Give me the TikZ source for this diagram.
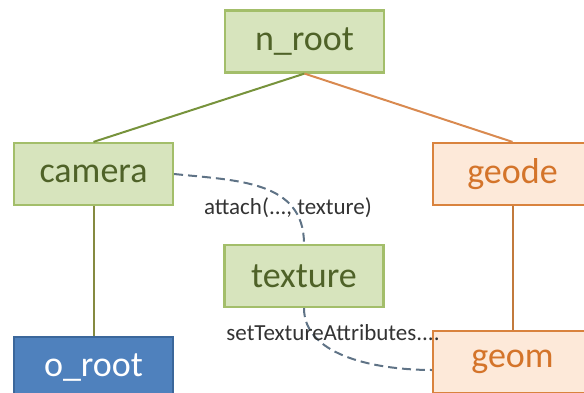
\documentclass[tikz,border=0pt]{standalone}
\usepackage{fontspec}
\setmainfont{Carlito}
\definecolor{gfill}{HTML}{D7E4BD}
\definecolor{gdraw}{HTML}{A3BE6A}
\definecolor{gtext}{HTML}{4F6228}
\definecolor{ofill}{HTML}{FDE9D9}
\definecolor{odraw}{HTML}{D9833E}
\definecolor{otext}{HTML}{D4742A}
\definecolor{bfill}{HTML}{4F81BD}
\definecolor{bdraw}{HTML}{3B679B}
\definecolor{gline}{HTML}{77933C}
\definecolor{oline}{HTML}{D98A50}
\definecolor{kline}{HTML}{858A40}
\definecolor{bline}{HTML}{C27A3C}
\definecolor{dline}{HTML}{5F7386}
\definecolor{ltext}{HTML}{333333}
\tikzset{
  x=1pt, y=1pt,
  boxbase/.style={rectangle, minimum width=159pt, minimum height=62pt, line width=2.2pt, inner sep=0pt, font=\fontsize{36}{40}\selectfont},
  gbox/.style={boxbase, fill=gfill, draw=gdraw, text=gtext},
  obox/.style={boxbase, fill=ofill, draw=odraw, text=otext},
  bbox/.style={boxbase, fill=bfill, draw=bdraw, text=white},
  conn/.style={line width=2pt},
  dconn/.style={line width=2pt, draw=dline, dash pattern=on 9pt off 5pt},
  lbl/.style={font=\fontsize{23}{26}\selectfont, text=ltext, inner sep=0pt}
}
\begin{document}
\begin{tikzpicture}
\useasboundingbox (0,0) rectangle (584,392);
\node[gbox] (nroot) at (304.5,350.5) {n\_root};
\node[gbox] (camera) at (93.5,218) {camera};
\node[obox] (geode) at (512.5,218) {geode};
\node[gbox] (texture) at (304,116) {texture};
\node[bbox] (oroot) at (93.5,24) {o\_root};
\node[obox] (geom) at (512.5,30) {geom};
\coordinate (gin) at ([yshift=-8pt]geom.west);
\begin{scope}[on background layer/.try]
\end{scope}
\draw[conn, gline] (nroot.south) -- (camera.north);
\draw[conn, oline] (nroot.south) -- (geode.north);
\draw[conn, kline] (camera.south) -- (oroot.north);
\draw[conn, bline] (geode.south) -- (geom.north);
\draw[dconn] (camera.east) to[out=-6, in=90, looseness=1.1] (texture.north);
\draw[dconn] (texture.south) to[out=-90, in=180, looseness=0.9] (gin);
\node[lbl] (l1) at (288,184) {attach(..., texture)};
\node[lbl] (l2) at (333,59) {setTextureAttributes....};
\end{tikzpicture}
\end{document}
